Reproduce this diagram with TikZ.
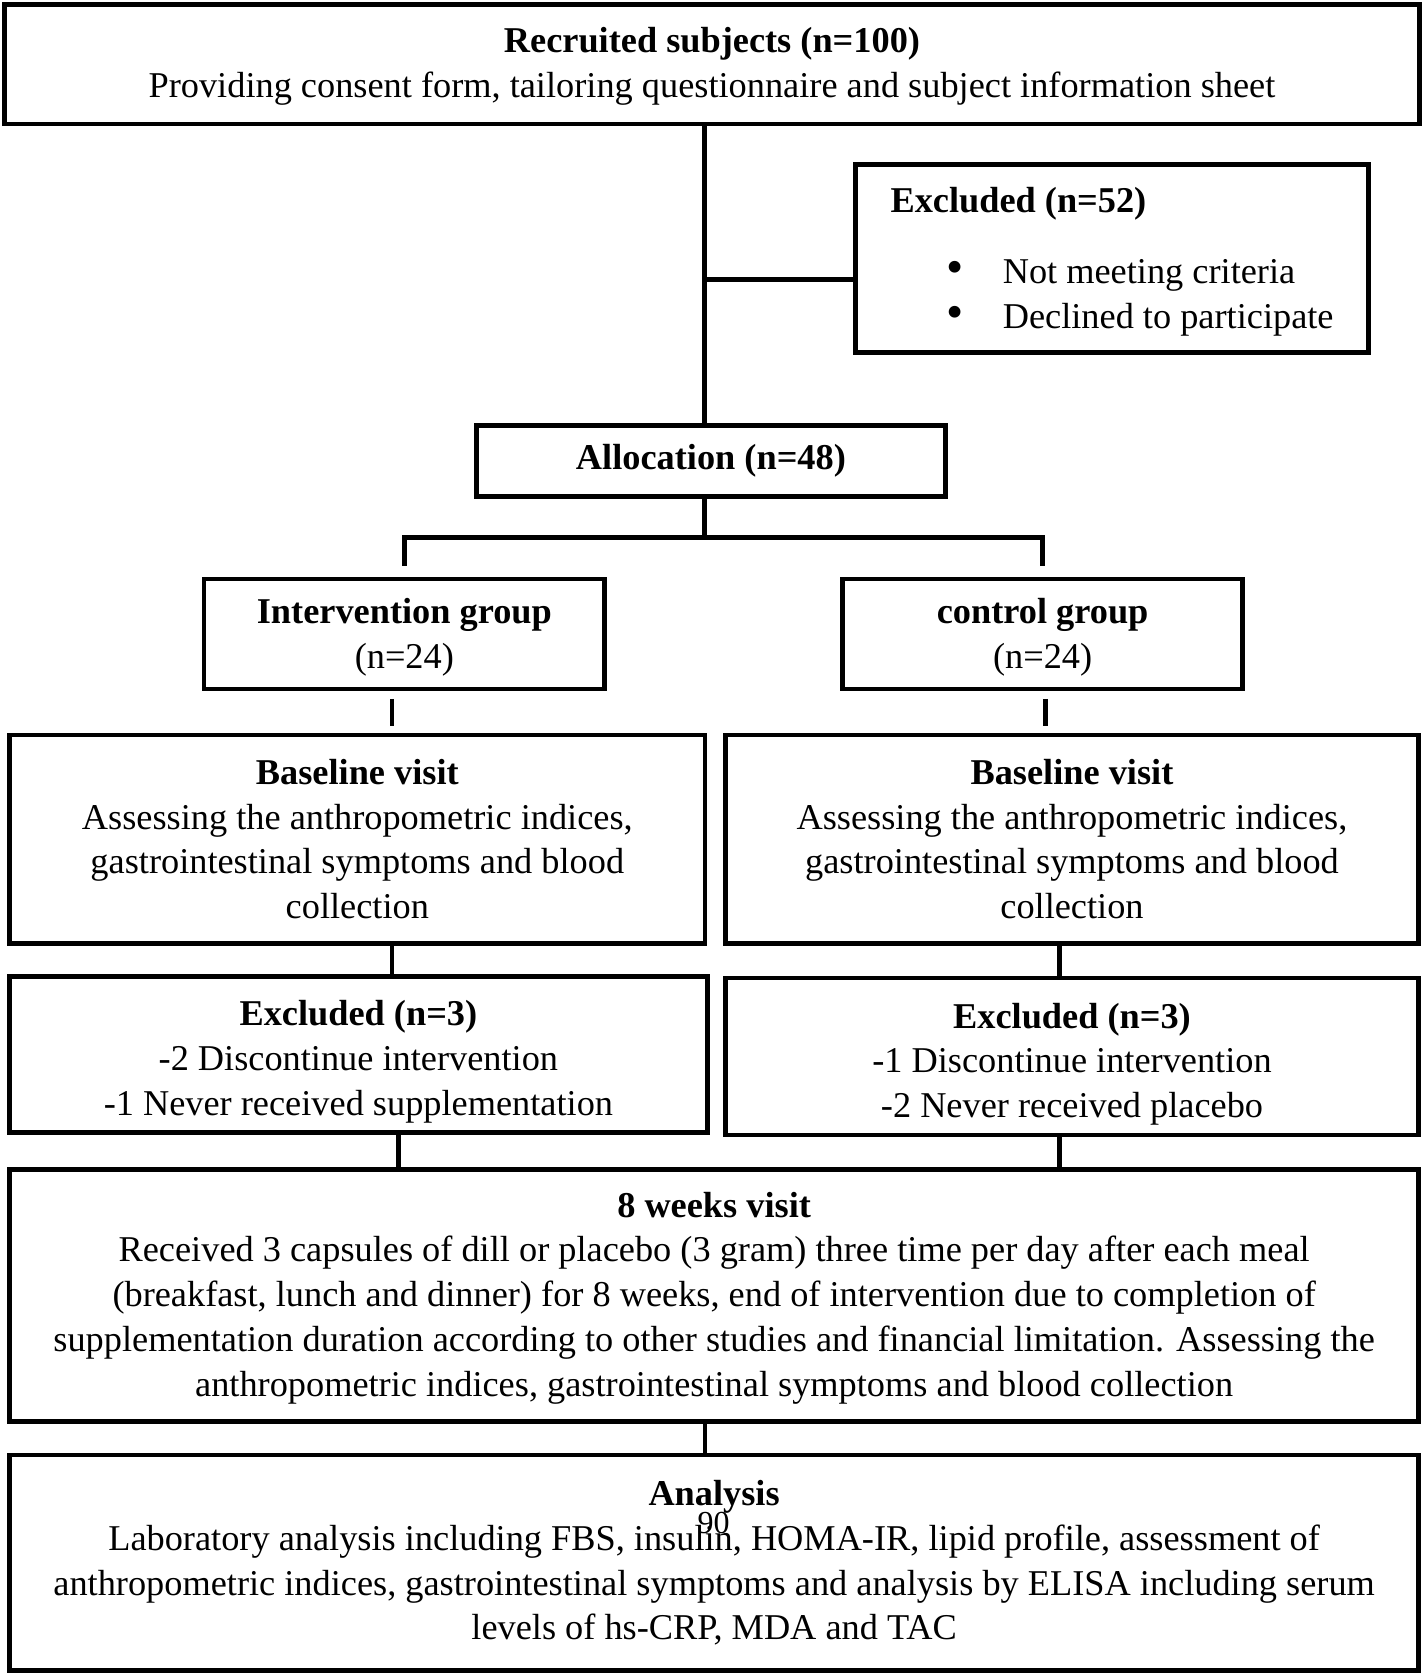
\documentclass[tikz,border=0pt]{standalone}
\usepackage{fontspec}
\setmainfont{Liberation Serif}
\usepackage{tikz}
\usetikzlibrary{positioning}

\begin{document}
\begin{tikzpicture}[
            x = 1pt, y = -1pt, % one unit per pixel, y runs downwards
            line width = 4.5pt, % line style
            line cap = rect
        ]

        \tikzstyle{box}=[
            draw = black,
            rectangle,
            inner sep = 0pt,
            align = center,
            font = \fontsize{34}{42}\selectfont
        ]

	\useasboundingbox (0,0) rectangle (1332,1568);

	\node[box, minimum width=1325, minimum height=112] (rec) at (666.5,60) {\rule{0pt}{28pt}\textbf{Recruited subjects (n=100)}\\Providing consent form, tailoring questionnaire and subject information sheet};
	\node[box, align=left, minimum width=480, minimum height=176] (ex52) at (1041,242) {\rule{0pt}{30pt}\textbf{Excluded (n=52)}\\[24pt]\hspace*{52pt}{\fontsize{46}{42}\selectfont\textbullet}\hspace{37pt}Not meeting criteria\\\hspace*{52pt}{\fontsize{46}{42}\selectfont\textbullet}\hspace{37pt}Declined to participate};
	\node[box, minimum width=439, minimum height=67] (alloc) at (665.5,431.5) {\textbf{Allocation (n=48)}};
	\node[box, minimum width=375, minimum height=103] (intv) at (378.5,593.5) {\rule{0pt}{30pt}\textbf{Intervention group}\\(n=24)};
	\node[box, minimum width=374, minimum height=103] (ctrl) at (976,593.5) {\rule{0pt}{30pt}\textbf{control group}\\(n=24)};
	\node[box, minimum width=651, minimum height=195] (base1) at (334.5,785.5) {\textbf{Baseline visit}\\Assessing the anthropometric indices,\\gastrointestinal symptoms and blood\\collection};
	\node[box, minimum width=649, minimum height=195] (base2) at (1003.5,785.5) {\textbf{Baseline visit}\\Assessing the anthropometric indices,\\gastrointestinal symptoms and blood\\collection};
	\node[box, minimum width=653, minimum height=146] (ex3a) at (335.5,987) {\rule{0pt}{38pt}\textbf{Excluded (n=3)}\\-2 Discontinue intervention\\-1 Never received supplementation};
	\node[box, minimum width=649, minimum height=147] (ex3b) at (1003.5,989) {\rule{0pt}{38pt}\textbf{Excluded (n=3)}\\-1 Discontinue intervention\\-2 Never received placebo};
	\node[box, minimum width=1319, minimum height=236] (wk8) at (668.5,1213) {\rule{0pt}{28pt}\textbf{8 weeks visit}\\Received 3 capsules of dill or placebo (3 gram) three time per day after each meal\\(breakfast, lunch and dinner) for 8 weeks, end of intervention due to completion of\\supplementation duration according to other studies and financial limitation. Assessing the\\anthropometric indices, gastrointestinal symptoms and blood collection};
	\node[box, minimum width=1319, minimum height=202] (ana) at (668.5,1463) {\textbf{Analysis}\\Laboratory analysis including FBS, insulin, HOMA-IR, lipid profile, assessment of\\anthropometric indices, gastrointestinal symptoms and analysis by ELISA including serum\\levels of hs-CRP, MDA and TAC};
	\node[font=\fontsize{30}{30}\selectfont, inner sep=0pt] (pgno) at (668,1426) {90};

	% connectors
	\coordinate (trunk) at ([xshift=-6pt]alloc.north);
	\coordinate (exin) at ([yshift=-20pt]ex52.west);
	\draw (trunk) -- (trunk |- rec.south);
	\draw (trunk |- exin) -- (exin);
	\draw[line cap=butt, shorten > = 10pt] ([xshift=-6pt]alloc.south) -- ++(0,36) -| (intv.north);
	\draw[line cap=butt, shorten > = 10pt] ([xshift=-6pt]alloc.south) -- ++(0,36) -| (ctrl.north);
	\draw[line cap=butt, shorten < = 7pt, shorten > = 6pt] ([xshift=-11.5pt]intv.south) -- ([xshift=-11.5pt]intv.south |- base1.north);
	\draw[line cap=butt, shorten < = 7pt, shorten > = 6pt] ([xshift=3pt]ctrl.south) -- ([xshift=3pt]ctrl.south |- base2.north);
	\draw ([xshift=32.5pt]base1.south) -- ([xshift=32.5pt]base1.south |- ex3a.north);
	\draw ([xshift=-11.5pt]base2.south) -- ([xshift=-11.5pt]base2.south |- ex3b.north);
	\draw ([xshift=37.5pt]ex3a.south) -- ([xshift=37.5pt]ex3a.south |- wk8.north);
	\draw ([xshift=-11.5pt]ex3b.south) -- ([xshift=-11.5pt]ex3b.south |- wk8.north);
	\draw ([xshift=-8.5pt]wk8.south) -- ([xshift=-8.5pt]wk8.south |- ana.north);

\end{tikzpicture}
\end{document}
